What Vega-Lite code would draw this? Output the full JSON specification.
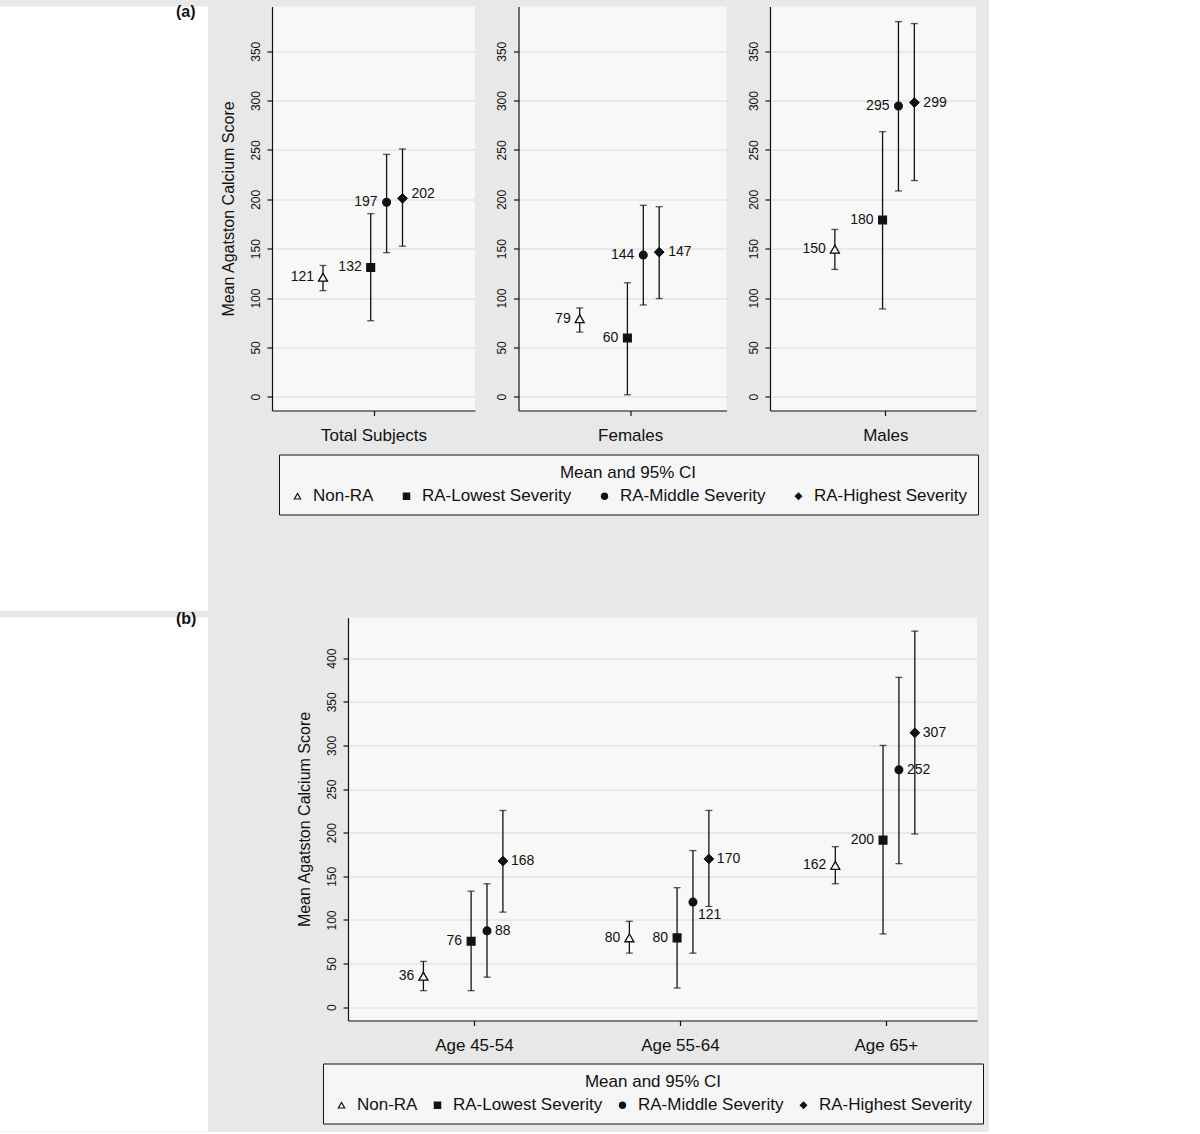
{
  "$schema": "https://vega.github.io/schema/vega-lite/v6.json",
  "background": "#e8e8e8",
  "padding": {"left": 0, "top": 3.5, "right": 5, "bottom": 0},
  "autosize": {"type": "pad"},
  "spacing": 0,
  "config": {
    "font": "Liberation Sans",
    "view": {"stroke": null, "fill": "#f8f8f8"},
    "axis": {
      "labelFont": "Liberation Sans", "titleFont": "Liberation Sans",
      "labelColor": "#111", "titleColor": "#111",
      "domainColor": "#111", "tickColor": "#111",
      "domainWidth": 1.2, "tickWidth": 1.2, "tickSize": 5,
      "titleFontWeight": "normal"
    },
    "axisY": {
      "labelAngle": 270, "labelAlign": "center", "labelBaseline": "bottom",
      "labelFontSize": 12, "labelPadding": 5,
      "titleFontSize": 16, "titlePadding": 13,
      "grid": true, "gridColor": "#e4e4e4", "gridWidth": 1.5
    },
    "axisX": {
      "labelAngle": 0, "labelFontSize": 17, "labelPadding": 12, "grid": false
    },
    "legend": {
      "direction": "horizontal", "orient": "none",
      "titleFont": "Liberation Sans", "labelFont": "Liberation Sans",
      "titleFontSize": 17, "titleFontWeight": "normal", "titleColor": "#111",
      "titleAnchor": "middle", "titlePadding": 6,
      "labelFontSize": 17, "labelColor": "#111", "labelOffset": 7,
      "symbolSize": 40, "symbolStrokeWidth": 1.2,
      "strokeColor": "#111", "fillColor": "#f6f6f6", "padding": 10
    },
    "title": {"font": "Liberation Sans", "fontSize": 16, "fontWeight": "bold", "color": "#111"}
  },
  "datasets": {
    "a": [
      {"group": "Total Subjects", "series": "Non-RA", "mean": 121, "lo": 107.5, "hi": 133, "label": 121},
      {"group": "Total Subjects", "series": "RA-Lowest Severity", "mean": 131, "lo": 77, "hi": 185.5, "label": 132},
      {"group": "Total Subjects", "series": "RA-Middle Severity", "mean": 197, "lo": 146, "hi": 245.5, "label": 197},
      {"group": "Total Subjects", "series": "RA-Highest Severity", "mean": 201, "lo": 152.5, "hi": 251, "label": 202},
      {"group": "Females", "series": "Non-RA", "mean": 79, "lo": 65.5, "hi": 90, "label": 79},
      {"group": "Females", "series": "RA-Lowest Severity", "mean": 59.5, "lo": 2, "hi": 115.5, "label": 60},
      {"group": "Females", "series": "RA-Middle Severity", "mean": 143.5, "lo": 93, "hi": 194, "label": 144},
      {"group": "Females", "series": "RA-Highest Severity", "mean": 146.5, "lo": 99.5, "hi": 192.5, "label": 147},
      {"group": "Males", "series": "Non-RA", "mean": 149.5, "lo": 129, "hi": 169.5, "label": 150},
      {"group": "Males", "series": "RA-Lowest Severity", "mean": 179, "lo": 89, "hi": 268.5, "label": 180},
      {"group": "Males", "series": "RA-Middle Severity", "mean": 294.5, "lo": 208.5, "hi": 380, "label": 295},
      {"group": "Males", "series": "RA-Highest Severity", "mean": 298, "lo": 219, "hi": 378, "label": 299}
    ],
    "b": [
      {"group": "Age 45-54", "series": "Non-RA", "mean": 35.5, "lo": 19, "hi": 52.5, "label": 36},
      {"group": "Age 45-54", "series": "RA-Lowest Severity", "mean": 75.5, "lo": 19, "hi": 133, "label": 76},
      {"group": "Age 45-54", "series": "RA-Middle Severity", "mean": 87.5, "lo": 34.5, "hi": 141.5, "label": 88},
      {"group": "Age 45-54", "series": "RA-Highest Severity", "mean": 167.5, "lo": 109, "hi": 225.5, "label": 168},
      {"group": "Age 55-64", "series": "Non-RA", "mean": 79.5, "lo": 62, "hi": 98.5, "label": 80},
      {"group": "Age 55-64", "series": "RA-Lowest Severity", "mean": 79.5, "lo": 22, "hi": 137, "label": 80},
      {"group": "Age 55-64", "series": "RA-Middle Severity", "mean": 120.5, "lo": 62, "hi": 179.5, "label": 121},
      {"group": "Age 55-64", "series": "RA-Highest Severity", "mean": 170, "lo": 115.5, "hi": 225.5, "label": 170},
      {"group": "Age 65+", "series": "Non-RA", "mean": 162.5, "lo": 141.5, "hi": 184, "label": 162},
      {"group": "Age 65+", "series": "RA-Lowest Severity", "mean": 191.5, "lo": 84, "hi": 300, "label": 200},
      {"group": "Age 65+", "series": "RA-Middle Severity", "mean": 272, "lo": 164.5, "hi": 378, "label": 252},
      {"group": "Age 65+", "series": "RA-Highest Severity", "mean": 314.5, "lo": 198.5, "hi": 431, "label": 307}
    ]
  },
  "resolve": {"scale": {"shape": "independent", "fill": "independent", "stroke": "independent"}, "legend": {"shape": "independent", "fill": "independent", "stroke": "independent"}},
  "vconcat": [
    {
      "spacing": -32,
      "resolve": {"scale": {"shape": "independent", "fill": "independent", "stroke": "independent"}, "legend": {"shape": "independent", "fill": "independent", "stroke": "independent"}},
      "hconcat": [
        {
          "width": 208, "height": 604,
          "view": {"fill": "white", "stroke": null},
          "data": {"values": [{"k": 1}]},
          "mark": {"type": "point", "opacity": 0}
        },
        {
          "bounds": "flush",
          "spacing": 43.5,
          "resolve": {"scale": {"x": "independent", "y": "independent"}, "axis": {"x": "independent", "y": "independent"}},
          "hconcat": [
            {
              "width": 203, "height": 404,
              "title": {"text": "(a)", "anchor": "start", "frame": "group", "dx": -96, "dy": 21, "offset": 0, "baseline": "middle"},
              "data": {"name": "a"},
              "transform": [{"filter": "datum.group === 'Total Subjects'"}],
              "encoding": {
                "x": {"field": "group", "type": "nominal", "title": null, "scale": {"type": "point", "padding": 0.5, "align": 0.5}},
                "xOffset": {"field": "series", "type": "nominal", "scale": {"type": "point", "padding": 0, "domain": ["Non-RA", "_g1", "_g2", "RA-Lowest Severity", "RA-Middle Severity", "RA-Highest Severity"], "range": [-50.5, 29]}}
              },
              "layer": [
                {"mark": {"type": "rule", "color": "#111", "strokeWidth": 1.3},
                 "encoding": {"y": {"field": "lo", "type": "quantitative", "title": "Mean Agatston Calcium Score", "scale": {"domain": [-13.9, 395.3], "nice": false, "zero": false}, "axis": {"values": [0, 50, 100, 150, 200, 250, 300, 350]}}, "y2": {"field": "hi"}}},
                {"mark": {"type": "tick", "orient": "horizontal", "size": 7, "thickness": 1.3, "color": "#111"},
                 "encoding": {"y": {"field": "lo", "type": "quantitative", "title": "Mean Agatston Calcium Score"}}},
                {"mark": {"type": "tick", "orient": "horizontal", "size": 7, "thickness": 1.3, "color": "#111"},
                 "encoding": {"y": {"field": "hi", "type": "quantitative", "title": "Mean Agatston Calcium Score"}}},
                {"mark": {"type": "point", "filled": true, "size": 60, "strokeWidth": 1.3, "opacity": 1},
                 "encoding": {
                   "y": {"field": "mean", "type": "quantitative", "title": "Mean Agatston Calcium Score"},
                   "shape": {"field": "series", "type": "nominal", "title": "Mean and 95% CI", "scale": {"domain": ["Non-RA", "RA-Lowest Severity", "RA-Middle Severity", "RA-Highest Severity"], "range": ["triangle-up", "square", "circle", "diamond"]}, "legend": {"legendX": 7, "legendY": 448, "columnPadding": 24}},
                   "fill": {"field": "series", "type": "nominal", "title": "Mean and 95% CI", "scale": {"domain": ["Non-RA", "RA-Lowest Severity", "RA-Middle Severity", "RA-Highest Severity"], "range": ["#f8f8f8", "#111", "#111", "#111"]}, "legend": {"legendX": 7, "legendY": 448, "columnPadding": 24}},
                   "stroke": {"field": "series", "type": "nominal", "title": "Mean and 95% CI", "scale": {"domain": ["Non-RA", "RA-Lowest Severity", "RA-Middle Severity", "RA-Highest Severity"], "range": ["#111", "#111", "#111", "#111"]}, "legend": {"legendX": 7, "legendY": 448, "columnPadding": 24}}
                 }},
                {"transform": [{"filter": "datum.series === 'Non-RA'"}],
                 "mark": {"type": "point", "shape": "triangle-up", "filled": true, "size": 80, "fill": "#f8f8f8", "stroke": "#111", "strokeWidth": 1.3, "opacity": 1},
                 "encoding": {"y": {"field": "mean", "type": "quantitative", "title": "Mean Agatston Calcium Score"}}},
                {"transform": [{"filter": "datum.series === 'RA-Highest Severity'"}],
                 "mark": {"type": "point", "shape": "diamond", "filled": true, "size": 95, "fill": "#111", "stroke": "#111", "strokeWidth": 1, "opacity": 1},
                 "encoding": {"y": {"field": "mean", "type": "quantitative", "title": "Mean Agatston Calcium Score"}}},
                {"transform": [{"filter": "datum.series !== 'RA-Highest Severity'"}],
                 "mark": {"type": "text", "align": "right", "baseline": "middle", "dx": -9, "fontSize": 14, "color": "#111"},
                 "encoding": {"y": {"field": "mean", "type": "quantitative", "title": "Mean Agatston Calcium Score"}, "text": {"field": "label", "type": "quantitative"}}},
                {"transform": [{"filter": "datum.series === 'RA-Highest Severity'"}],
                 "mark": {"type": "text", "align": "left", "baseline": "middle", "dx": 9, "dy": -4, "fontSize": 14, "color": "#111"},
                 "encoding": {"y": {"field": "mean", "type": "quantitative", "title": "Mean Agatston Calcium Score"}, "text": {"field": "label", "type": "quantitative"}}}
              ]
            },
            {
              "width": 208, "height": 404,
              "data": {"name": "a"},
              "transform": [{"filter": "datum.group === 'Females'"}],
              "encoding": {
                "x": {"field": "group", "type": "nominal", "title": null, "scale": {"type": "point", "padding": 0.5, "align": 0.537}},
                "xOffset": {"field": "series", "type": "nominal", "scale": {"type": "point", "padding": 0, "domain": ["Non-RA", "_g1", "_g2", "RA-Lowest Severity", "RA-Middle Severity", "RA-Highest Severity"], "range": [-50.5, 29]}}
              },
              "layer": [
                {"mark": {"type": "rule", "color": "#111", "strokeWidth": 1.3},
                 "encoding": {"y": {"field": "lo", "type": "quantitative", "title": null, "scale": {"domain": [-13.9, 395.3], "nice": false, "zero": false}, "axis": {"values": [0, 50, 100, 150, 200, 250, 300, 350]}}, "y2": {"field": "hi"}}},
                {"mark": {"type": "tick", "orient": "horizontal", "size": 7, "thickness": 1.3, "color": "#111"},
                 "encoding": {"y": {"field": "lo", "type": "quantitative", "title": null}}},
                {"mark": {"type": "tick", "orient": "horizontal", "size": 7, "thickness": 1.3, "color": "#111"},
                 "encoding": {"y": {"field": "hi", "type": "quantitative", "title": null}}},
                {"mark": {"type": "point", "filled": true, "size": 60, "strokeWidth": 1.3, "opacity": 1},
                 "encoding": {
                   "y": {"field": "mean", "type": "quantitative", "title": null},
                   "shape": {"field": "series", "type": "nominal", "title": "Mean and 95% CI", "scale": {"domain": ["Non-RA", "RA-Lowest Severity", "RA-Middle Severity", "RA-Highest Severity"], "range": ["triangle-up", "square", "circle", "diamond"]}, "legend": {"legendX": 7, "legendY": 448, "columnPadding": 24}},
                   "fill": {"field": "series", "type": "nominal", "title": "Mean and 95% CI", "scale": {"domain": ["Non-RA", "RA-Lowest Severity", "RA-Middle Severity", "RA-Highest Severity"], "range": ["#f8f8f8", "#111", "#111", "#111"]}, "legend": {"legendX": 7, "legendY": 448, "columnPadding": 24}},
                   "stroke": {"field": "series", "type": "nominal", "title": "Mean and 95% CI", "scale": {"domain": ["Non-RA", "RA-Lowest Severity", "RA-Middle Severity", "RA-Highest Severity"], "range": ["#111", "#111", "#111", "#111"]}, "legend": {"legendX": 7, "legendY": 448, "columnPadding": 24}}
                 }},
                {"transform": [{"filter": "datum.series === 'Non-RA'"}],
                 "mark": {"type": "point", "shape": "triangle-up", "filled": true, "size": 80, "fill": "#f8f8f8", "stroke": "#111", "strokeWidth": 1.3, "opacity": 1},
                 "encoding": {"y": {"field": "mean", "type": "quantitative", "title": null}}},
                {"transform": [{"filter": "datum.series === 'RA-Highest Severity'"}],
                 "mark": {"type": "point", "shape": "diamond", "filled": true, "size": 95, "fill": "#111", "stroke": "#111", "strokeWidth": 1, "opacity": 1},
                 "encoding": {"y": {"field": "mean", "type": "quantitative", "title": null}}},
                {"transform": [{"filter": "datum.series !== 'RA-Highest Severity'"}],
                 "mark": {"type": "text", "align": "right", "baseline": "middle", "dx": -9, "fontSize": 14, "color": "#111"},
                 "encoding": {"y": {"field": "mean", "type": "quantitative", "title": null}, "text": {"field": "label", "type": "quantitative"}}},
                {"transform": [{"filter": "datum.series === 'RA-Highest Severity'"}],
                 "mark": {"type": "text", "align": "left", "baseline": "middle", "dx": 9, "fontSize": 14, "color": "#111"},
                 "encoding": {"y": {"field": "mean", "type": "quantitative", "title": null}, "text": {"field": "label", "type": "quantitative"}}}
              ]
            },
            {
              "width": 206, "height": 404,
              "data": {"name": "a"},
              "transform": [{"filter": "datum.group === 'Males'"}],
              "encoding": {
                "x": {"field": "group", "type": "nominal", "title": null, "scale": {"type": "point", "padding": 0.5, "align": 0.56}},
                "xOffset": {"field": "series", "type": "nominal", "scale": {"type": "point", "padding": 0, "domain": ["Non-RA", "_g1", "_g2", "RA-Lowest Severity", "RA-Middle Severity", "RA-Highest Severity"], "range": [-50.5, 29]}}
              },
              "layer": [
                {"mark": {"type": "rule", "color": "#111", "strokeWidth": 1.3},
                 "encoding": {"y": {"field": "lo", "type": "quantitative", "title": null, "scale": {"domain": [-13.9, 395.3], "nice": false, "zero": false}, "axis": {"values": [0, 50, 100, 150, 200, 250, 300, 350]}}, "y2": {"field": "hi"}}},
                {"mark": {"type": "tick", "orient": "horizontal", "size": 7, "thickness": 1.3, "color": "#111"},
                 "encoding": {"y": {"field": "lo", "type": "quantitative", "title": null}}},
                {"mark": {"type": "tick", "orient": "horizontal", "size": 7, "thickness": 1.3, "color": "#111"},
                 "encoding": {"y": {"field": "hi", "type": "quantitative", "title": null}}},
                {"mark": {"type": "point", "filled": true, "size": 60, "strokeWidth": 1.3, "opacity": 1},
                 "encoding": {
                   "y": {"field": "mean", "type": "quantitative", "title": null},
                   "shape": {"field": "series", "type": "nominal", "title": "Mean and 95% CI", "scale": {"domain": ["Non-RA", "RA-Lowest Severity", "RA-Middle Severity", "RA-Highest Severity"], "range": ["triangle-up", "square", "circle", "diamond"]}, "legend": {"legendX": 7, "legendY": 448, "columnPadding": 24}},
                   "fill": {"field": "series", "type": "nominal", "title": "Mean and 95% CI", "scale": {"domain": ["Non-RA", "RA-Lowest Severity", "RA-Middle Severity", "RA-Highest Severity"], "range": ["#f8f8f8", "#111", "#111", "#111"]}, "legend": {"legendX": 7, "legendY": 448, "columnPadding": 24}},
                   "stroke": {"field": "series", "type": "nominal", "title": "Mean and 95% CI", "scale": {"domain": ["Non-RA", "RA-Lowest Severity", "RA-Middle Severity", "RA-Highest Severity"], "range": ["#111", "#111", "#111", "#111"]}, "legend": {"legendX": 7, "legendY": 448, "columnPadding": 24}}
                 }},
                {"transform": [{"filter": "datum.series === 'Non-RA'"}],
                 "mark": {"type": "point", "shape": "triangle-up", "filled": true, "size": 80, "fill": "#f8f8f8", "stroke": "#111", "strokeWidth": 1.3, "opacity": 1},
                 "encoding": {"y": {"field": "mean", "type": "quantitative", "title": null}}},
                {"transform": [{"filter": "datum.series === 'RA-Highest Severity'"}],
                 "mark": {"type": "point", "shape": "diamond", "filled": true, "size": 95, "fill": "#111", "stroke": "#111", "strokeWidth": 1, "opacity": 1},
                 "encoding": {"y": {"field": "mean", "type": "quantitative", "title": null}}},
                {"transform": [{"filter": "datum.series !== 'RA-Highest Severity'"}],
                 "mark": {"type": "text", "align": "right", "baseline": "middle", "dx": -9, "fontSize": 14, "color": "#111"},
                 "encoding": {"y": {"field": "mean", "type": "quantitative", "title": null}, "text": {"field": "label", "type": "quantitative"}}},
                {"transform": [{"filter": "datum.series === 'RA-Highest Severity'"}],
                 "mark": {"type": "text", "align": "left", "baseline": "middle", "dx": 9, "fontSize": 14, "color": "#111"},
                 "encoding": {"y": {"field": "mean", "type": "quantitative", "title": null}, "text": {"field": "label", "type": "quantitative"}}}
              ]
            }
          ]
        }
      ]
    },
    {
      "spacing": -32,
      "resolve": {"scale": {"shape": "independent", "fill": "independent", "stroke": "independent"}, "legend": {"shape": "independent", "fill": "independent", "stroke": "independent"}},
      "hconcat": [
        {
          "width": 208, "height": 514,
          "view": {"fill": "white", "stroke": null},
          "data": {"values": [{"k": 1}]},
          "mark": {"type": "point", "opacity": 0}
        },
        {
          "width": 629, "height": 403,
          "title": {"text": "(b)", "anchor": "start", "frame": "group", "dx": -172, "dy": 17.5, "offset": 0, "baseline": "middle"},
          "data": {"name": "b"},
          "encoding": {
            "x": {"field": "group", "type": "nominal", "title": null, "sort": ["Age 45-54", "Age 55-64", "Age 65+"], "scale": {"type": "point", "padding": 0.527, "align": 0.58}},
            "xOffset": {"field": "series", "type": "nominal", "scale": {"type": "point", "padding": 0, "domain": ["Non-RA", "_g1", "_g2", "RA-Lowest Severity", "RA-Middle Severity", "RA-Highest Severity"], "range": [-50.5, 29]}}
          },
          "layer": [
            {"mark": {"type": "rule", "color": "#111", "strokeWidth": 1.3},
             "encoding": {"y": {"field": "lo", "type": "quantitative", "title": "Mean Agatston Calcium Score", "scale": {"domain": [-15.2, 446.6], "nice": false, "zero": false}, "axis": {"values": [0, 50, 100, 150, 200, 250, 300, 350, 400]}}, "y2": {"field": "hi"}}},
            {"mark": {"type": "tick", "orient": "horizontal", "size": 7, "thickness": 1.3, "color": "#111"},
             "encoding": {"y": {"field": "lo", "type": "quantitative", "title": "Mean Agatston Calcium Score"}}},
            {"mark": {"type": "tick", "orient": "horizontal", "size": 7, "thickness": 1.3, "color": "#111"},
             "encoding": {"y": {"field": "hi", "type": "quantitative", "title": "Mean Agatston Calcium Score"}}},
            {"mark": {"type": "point", "filled": true, "size": 60, "strokeWidth": 1.3, "opacity": 1},
             "encoding": {
               "y": {"field": "mean", "type": "quantitative", "title": "Mean Agatston Calcium Score"},
               "shape": {"field": "series", "type": "nominal", "title": "Mean and 95% CI", "scale": {"domain": ["Non-RA", "RA-Lowest Severity", "RA-Middle Severity", "RA-Highest Severity"], "range": ["triangle-up", "square", "circle", "diamond"]}, "legend": {"legendX": -25, "legendY": 446, "columnPadding": 11}},
               "fill": {"field": "series", "type": "nominal", "title": "Mean and 95% CI", "scale": {"domain": ["Non-RA", "RA-Lowest Severity", "RA-Middle Severity", "RA-Highest Severity"], "range": ["#f8f8f8", "#111", "#111", "#111"]}, "legend": {"legendX": -25, "legendY": 446, "columnPadding": 11}},
               "stroke": {"field": "series", "type": "nominal", "title": "Mean and 95% CI", "scale": {"domain": ["Non-RA", "RA-Lowest Severity", "RA-Middle Severity", "RA-Highest Severity"], "range": ["#111", "#111", "#111", "#111"]}, "legend": {"legendX": -25, "legendY": 446, "columnPadding": 11}}
             }},
            {"transform": [{"filter": "datum.series === 'Non-RA'"}],
             "mark": {"type": "point", "shape": "triangle-up", "filled": true, "size": 80, "fill": "#f8f8f8", "stroke": "#111", "strokeWidth": 1.3, "opacity": 1},
             "encoding": {"y": {"field": "mean", "type": "quantitative", "title": "Mean Agatston Calcium Score"}}},
            {"transform": [{"filter": "datum.series === 'RA-Highest Severity'"}],
             "mark": {"type": "point", "shape": "diamond", "filled": true, "size": 95, "fill": "#111", "stroke": "#111", "strokeWidth": 1, "opacity": 1},
             "encoding": {"y": {"field": "mean", "type": "quantitative", "title": "Mean Agatston Calcium Score"}}},
            {"transform": [{"filter": "datum.series === 'Non-RA' || datum.series === 'RA-Lowest Severity'"}],
             "mark": {"type": "text", "align": "right", "baseline": "middle", "dx": -9, "fontSize": 14, "color": "#111"},
             "encoding": {"y": {"field": "mean", "type": "quantitative", "title": "Mean Agatston Calcium Score"}, "text": {"field": "label", "type": "quantitative"}}},
            {"transform": [{"filter": "(datum.series === 'RA-Middle Severity' || datum.series === 'RA-Highest Severity') && !(datum.group === 'Age 55-64' && datum.series === 'RA-Middle Severity')"}],
             "mark": {"type": "text", "align": "left", "baseline": "middle", "dx": 8, "fontSize": 14, "color": "#111"},
             "encoding": {"y": {"field": "mean", "type": "quantitative", "title": "Mean Agatston Calcium Score"}, "text": {"field": "label", "type": "quantitative"}}},
            {"transform": [{"filter": "datum.group === 'Age 55-64' && datum.series === 'RA-Middle Severity'"}],
             "mark": {"type": "text", "align": "left", "baseline": "middle", "dx": 5, "dy": 13, "fontSize": 14, "color": "#111"},
             "encoding": {"y": {"field": "mean", "type": "quantitative", "title": "Mean Agatston Calcium Score"}, "text": {"field": "label", "type": "quantitative"}}}
          ]
        }
      ]
    }
  ]
}
